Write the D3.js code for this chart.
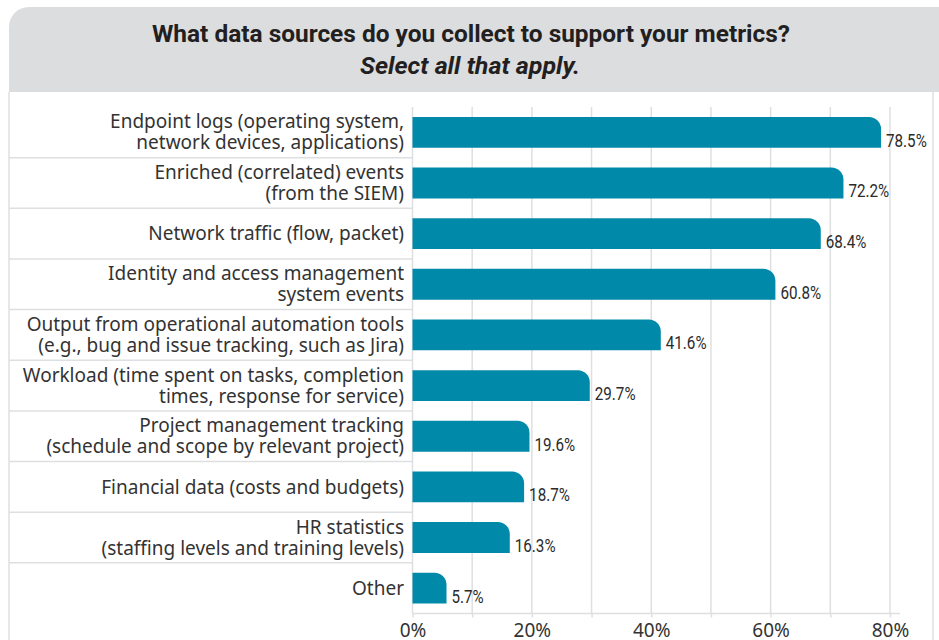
<!DOCTYPE html>
<html>
<head>
<meta charset="utf-8">
<script src="https://cdn.jsdelivr.net/npm/d3@7"></script>
<style>
  html, body { margin: 0; padding: 0; background: #ffffff; }
  svg { display: block; }
</style>
</head>
<body>
<svg id="chart" width="939" height="640"></svg>
<script>
// Survey question and answer options (each label line separated by "\n")
const titleText = "What data sources do you collect to support your metrics?";
const subtitleText = "Select all that apply.";

const categories = [
  "Endpoint logs (operating system,\nnetwork devices, applications)",
  "Enriched (correlated) events\n(from the SIEM)",
  "Network traffic (flow, packet)",
  "Identity and access management\nsystem events",
  "Output from operational automation tools\n(e.g., bug and issue tracking, such as Jira)",
  "Workload (time spent on tasks, completion\ntimes, response for service)",
  "Project management tracking\n(schedule and scope by relevant project)",
  "Financial data (costs and budgets)",
  "HR statistics\n(staffing levels and training levels)",
  "Other"
];

// Share of respondents (%)
const values = [78.5, 72.2, 68.4, 60.8, 41.6, 29.7, 19.6, 18.7, 16.3, 5.7];

// Axis ticks
const tickValues = [0, 20, 40, 60, 80];
const gridValues = [0, 10, 20, 30, 40, 50, 60, 70, 80];

const data = categories.map((c, i) => ({ category: c, value: values[i] }));

const svg = d3.select("#chart");

const labelFont = "'Noto Sans', 'Open Sans', sans-serif";
const headFont = "Roboto, 'Noto Sans', sans-serif";
const barColor = "#0089a9";
const lineColor = "#dedfe0";
const textColor = "#333333";

// Panel: grey header with rounded upper-left corner, outlined body
const panelLeft = 9, panelTop = 7, headerBottom = 92, panelRight = 933;
svg.append("path")
  .attr("d", `M${panelLeft},${headerBottom} V${panelTop + 20} A20,20 0 0 1 ${panelLeft + 20},${panelTop} H939 V${headerBottom} Z`)
  .attr("fill", "#dcdddf");
svg.append("line")
  .attr("x1", panelLeft).attr("x2", panelLeft)
  .attr("y1", headerBottom).attr("y2", 640)
  .attr("stroke", lineColor).attr("stroke-width", 1.5);
svg.append("line")
  .attr("x1", panelRight).attr("x2", panelRight)
  .attr("y1", headerBottom).attr("y2", 640)
  .attr("stroke", lineColor).attr("stroke-width", 1.5);

// Title block (condensed to the header width)
svg.append("text")
  .attr("x", 152).attr("y", 42)
  .attr("font-family", headFont)
  .attr("font-weight", "bold")
  .attr("font-size", 24)
  .attr("fill", "#231f20")
  .attr("textLength", 638)
  .attr("lengthAdjust", "spacingAndGlyphs")
  .text(titleText);
svg.append("text")
  .attr("x", 360).attr("y", 74)
  .attr("font-family", headFont)
  .attr("font-weight", "bold")
  .attr("font-style", "italic")
  .attr("font-size", 24)
  .attr("fill", "#231f20")
  .attr("textLength", 220)
  .attr("lengthAdjust", "spacingAndGlyphs")
  .text(subtitleText);

// Scales
const x = d3.scaleLinear().domain([0, 80]).range([412.5, 890]);
const y = d3.scaleBand()
  .domain(categories)
  .range([107, 613.5])
  .paddingInner(0.39)
  .paddingOuter(0.195);
const step = y.step();

// Vertical gridlines
svg.append("g")
  .selectAll("line")
  .data(gridValues)
  .join("line")
  .attr("x1", d => x(d)).attr("x2", d => x(d))
  .attr("y1", 107).attr("y2", 613.5)
  .attr("stroke", lineColor).attr("stroke-width", 1.5);

// Row separators in the label column
svg.append("g")
  .selectAll("line")
  .data(categories.slice(1))
  .join("line")
  .attr("x1", panelLeft).attr("x2", x(0))
  .attr("y1", d => y(d) - step * y.paddingInner() / 2)
  .attr("y2", d => y(d) - step * y.paddingInner() / 2)
  .attr("stroke", lineColor).attr("stroke-width", 1.5);

// X axis
const xAxis = d3.axisBottom(x)
  .tickValues(gridValues)
  .tickSize(4)
  .tickFormat(d => tickValues.includes(d) ? d + "%" : "");
const axisG = svg.append("g")
  .attr("transform", "translate(0,613.5)")
  .call(xAxis);
axisG.select(".domain").remove();
axisG.insert("line", ":first-child")
  .attr("x1", x(0)).attr("x2", 900)
  .attr("y1", 0).attr("y2", 0)
  .attr("stroke", lineColor).attr("stroke-width", 1.5);
axisG.selectAll(".tick line").attr("stroke", lineColor).attr("stroke-width", 1.5);
axisG.selectAll(".tick text")
  .attr("y", 23)
  .attr("dy", null)
  .attr("font-family", labelFont)
  .attr("font-size", 19)
  .attr("fill", textColor);

// Bars with a rounded upper-right corner
const r = 12;
function barPath(d) {
  const x0 = x(0), x1 = x(d.value);
  const y0 = y(d.category), y1 = y0 + y.bandwidth();
  const rr = Math.min(r, (x1 - x0));
  return `M${x0},${y0} H${x1 - rr} A${rr},${rr} 0 0 1 ${x1},${y0 + rr} V${y1} H${x0} Z`;
}
svg.append("g")
  .selectAll("path")
  .data(data)
  .join("path")
  .attr("d", barPath)
  .attr("fill", barColor);

// Value labels (narrowed horizontally)
svg.append("g")
  .selectAll("text")
  .data(data)
  .join("text")
  .attr("transform", d => `translate(${x(d.value) + 5},${y(d.category) + y.bandwidth() - 1}) scale(0.8,1)`)
  .attr("font-family", headFont)
  .attr("font-size", 19)
  .attr("fill", "#2b2b2b")
  .text(d => d.value.toFixed(1) + "%");

// Category labels (right aligned, one or two lines)
const lineH = 21;
const labelG = svg.append("g")
  .selectAll("text")
  .data(data)
  .join("text")
  .attr("text-anchor", "end")
  .attr("font-family", labelFont)
  .attr("font-size", 19)
  .attr("fill", textColor)
  .attr("transform", d => `translate(404,${y(d.category) + y.bandwidth() / 2})`);
labelG.each(function(d) {
  const lines = d.category.split("\n");
  const t = d3.select(this);
  const offset = -(lines.length - 1) * lineH / 2;
  lines.forEach((ln, i) => {
    t.append("tspan")
      .attr("x", 0)
      .attr("y", offset + i * lineH)
      .attr("dy", "0.35em")
      .text(ln);
  });
});
</script>
</body>
</html>
